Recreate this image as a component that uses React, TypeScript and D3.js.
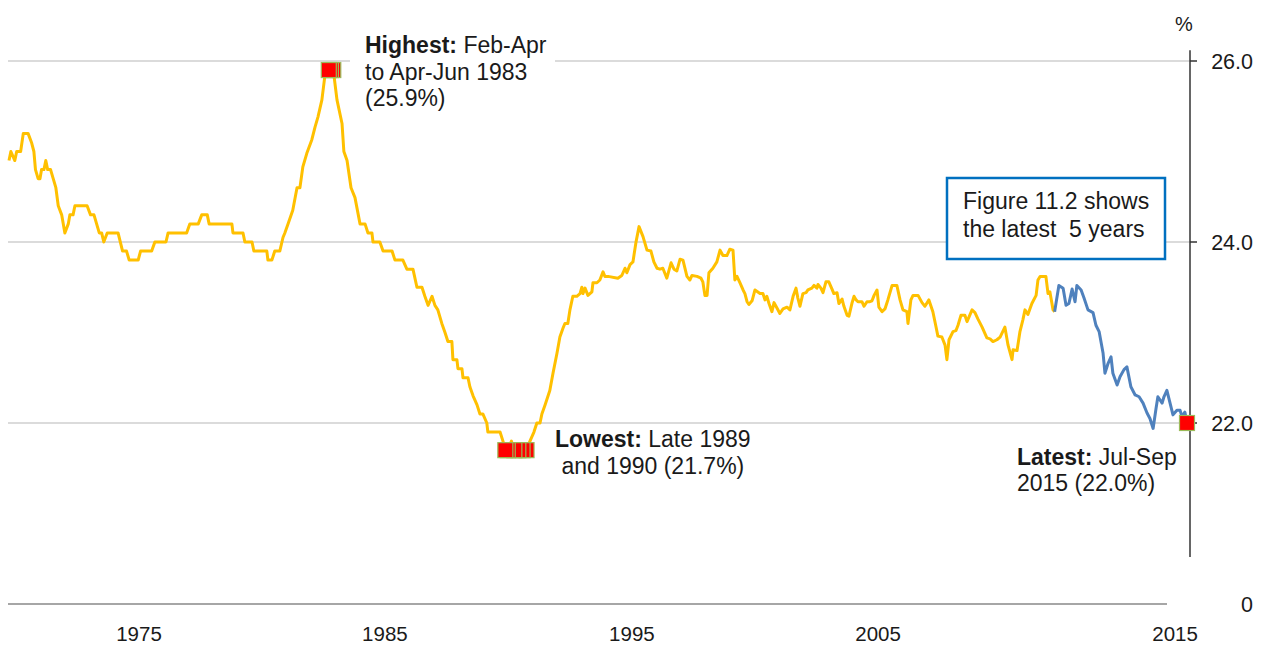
import React from 'react';
import * as d3 from 'd3';

// rolling-quarter rate, [year, %]
const seventies: [number, number][] = [
  [1971.13, 24.9], [1971.2, 25.0], [1971.35, 24.9], [1971.42, 25.0], [1971.57, 25.0], [1971.67, 25.2],
  [1971.85, 25.2], [1971.98, 25.1], [1972.07, 25.0], [1972.13, 24.8], [1972.23, 24.7], [1972.3, 24.7],
  [1972.36, 24.8], [1972.45, 24.8], [1972.52, 24.9], [1972.59, 24.8], [1972.7, 24.8], [1972.8, 24.7],
  [1972.9, 24.6], [1972.99, 24.4], [1973.12, 24.3], [1973.24, 24.1], [1973.37, 24.2], [1973.43, 24.3],
  [1973.55, 24.3], [1973.62, 24.4], [1974.08, 24.4], [1974.21, 24.3], [1974.34, 24.3], [1974.44, 24.2],
  [1974.54, 24.1], [1974.63, 24.1], [1974.71, 24.0], [1974.84, 24.1], [1975.25, 24.1], [1975.42, 23.9],
  [1975.57, 23.9], [1975.67, 23.8], [1976.01, 23.8], [1976.1, 23.9], [1976.52, 23.9], [1976.64, 24.0],
  [1977.06, 24.0], [1977.14, 24.1], [1977.84, 24.1], [1977.96, 24.2], [1978.28, 24.2], [1978.41, 24.3],
  [1978.62, 24.3], [1978.69, 24.2], [1979.55, 24.2], [1979.59, 24.1], [1979.97, 24.1],
];

const eighties: [number, number][] = [
  [1980.04, 24.0], [1980.31, 24.0], [1980.38, 23.9], [1980.87, 23.9], [1980.91, 23.8], [1981.06, 23.8],
  [1981.17, 23.9], [1981.36, 23.9], [1981.48, 24.05], [1981.55, 24.1], [1981.67, 24.2], [1981.85, 24.35],
  [1982.01, 24.6], [1982.12, 24.6], [1982.23, 24.83], [1982.38, 24.98], [1982.57, 25.13], [1982.69, 25.27],
  [1982.8, 25.38], [1982.95, 25.57], [1983.06, 25.83], [1983.21, 25.9], [1983.29, 25.9], [1983.38, 25.9],
  [1983.52, 25.57], [1983.71, 25.31], [1983.78, 25.0], [1983.9, 24.9], [1984.05, 24.6], [1984.2, 24.49],
  [1984.39, 24.2], [1984.58, 24.2], [1984.69, 24.1], [1984.84, 24.1], [1984.88, 24.0], [1985.14, 24.0],
  [1985.26, 23.9], [1985.6, 23.9], [1985.71, 23.8], [1986.01, 23.8], [1986.16, 23.7], [1986.39, 23.7],
  [1986.54, 23.5], [1986.73, 23.5], [1986.84, 23.4], [1986.96, 23.3], [1987.11, 23.4], [1987.22, 23.3],
  [1987.33, 23.25], [1987.48, 23.1], [1987.6, 23.0], [1987.71, 22.9], [1987.86, 22.9], [1987.9, 22.7],
  [1988.05, 22.7], [1988.09, 22.6], [1988.24, 22.6], [1988.28, 22.5], [1988.47, 22.5], [1988.54, 22.4],
  [1988.66, 22.3], [1988.81, 22.2], [1988.92, 22.1], [1989.03, 22.1], [1989.18, 22.0], [1989.22, 21.9],
  [1989.68, 21.9], [1989.79, 21.8], [1989.88, 21.7], [1989.97, 21.7],
];

const nineties: [number, number][] = [
  [1990.11, 21.8], [1990.22, 21.7], [1990.37, 21.7], [1990.53, 21.7], [1990.68, 21.7], [1990.81, 21.8],
  [1990.96, 21.9], [1991.07, 22.0], [1991.19, 22.0], [1991.26, 22.1], [1991.38, 22.2], [1991.56, 22.36],
  [1991.68, 22.55], [1991.83, 22.77], [1991.94, 22.95], [1992.06, 23.05], [1992.13, 23.1], [1992.24, 23.1],
  [1992.32, 23.25], [1992.43, 23.4], [1992.58, 23.4], [1992.7, 23.43], [1992.77, 23.5], [1992.81, 23.43],
  [1992.89, 23.49], [1993.0, 23.41], [1993.15, 23.45], [1993.19, 23.55], [1993.34, 23.55], [1993.45, 23.58],
  [1993.57, 23.67], [1993.64, 23.62], [1993.76, 23.62], [1994.13, 23.6], [1994.28, 23.63], [1994.4, 23.71],
  [1994.47, 23.66], [1994.59, 23.75], [1994.7, 23.78], [1994.81, 23.99], [1994.93, 24.17], [1995.08, 24.06],
  [1995.23, 23.91], [1995.38, 23.9], [1995.49, 23.78], [1995.61, 23.71], [1995.72, 23.7], [1995.83, 23.71],
  [1995.98, 23.6], [1996.14, 23.77], [1996.25, 23.7], [1996.36, 23.68], [1996.48, 23.81], [1996.59, 23.8],
  [1996.74, 23.62], [1996.85, 23.58], [1996.93, 23.63], [1997.12, 23.62], [1997.27, 23.6], [1997.34, 23.56],
  [1997.42, 23.41], [1997.5, 23.41], [1997.57, 23.66], [1997.72, 23.71], [1997.87, 23.78], [1997.99, 23.91],
  [1998.1, 23.85], [1998.25, 23.85], [1998.36, 23.92], [1998.48, 23.91], [1998.55, 23.58], [1998.63, 23.62],
  [1998.74, 23.55], [1998.86, 23.47], [1998.93, 23.43], [1999.01, 23.34], [1999.08, 23.31], [1999.2, 23.35],
  [1999.31, 23.47], [1999.5, 23.43], [1999.61, 23.43], [1999.69, 23.36], [1999.76, 23.4], [1999.84, 23.32],
  [1999.95, 23.23],
];

const noughties: [number, number][] = [
  [2000.03, 23.33], [2000.14, 23.27], [2000.25, 23.21], [2000.37, 23.26], [2000.52, 23.28], [2000.63, 23.25],
  [2000.75, 23.4], [2000.86, 23.49], [2000.93, 23.38], [2001.01, 23.29], [2001.12, 23.43], [2001.24, 23.44],
  [2001.31, 23.47], [2001.46, 23.49], [2001.54, 23.52], [2001.65, 23.49], [2001.69, 23.53], [2001.8, 23.49],
  [2001.88, 23.44], [2001.99, 23.56], [2002.1, 23.56], [2002.22, 23.48], [2002.29, 23.43], [2002.41, 23.44],
  [2002.48, 23.32], [2002.6, 23.37], [2002.67, 23.29], [2002.79, 23.19], [2002.86, 23.18], [2002.97, 23.32],
  [2003.05, 23.4], [2003.13, 23.36], [2003.2, 23.34], [2003.35, 23.34], [2003.43, 23.29], [2003.54, 23.34],
  [2003.65, 23.34], [2003.73, 23.35], [2003.81, 23.41], [2003.92, 23.47], [2003.99, 23.28], [2004.11, 23.23],
  [2004.22, 23.26], [2004.33, 23.36], [2004.49, 23.52], [2004.6, 23.52], [2004.67, 23.52], [2004.79, 23.36],
  [2004.9, 23.25], [2005.05, 23.23], [2005.09, 23.1], [2005.2, 23.36], [2005.28, 23.41], [2005.47, 23.41],
  [2005.62, 23.33], [2005.73, 23.29], [2005.88, 23.36], [2006.03, 23.23], [2006.15, 23.06], [2006.22, 22.96],
  [2006.37, 22.95], [2006.49, 22.86], [2006.56, 22.7], [2006.64, 22.92], [2006.79, 23.01], [2006.9, 23.02],
  [2006.98, 23.08], [2007.09, 23.19], [2007.24, 23.19], [2007.32, 23.12], [2007.51, 23.25], [2007.62, 23.22],
  [2007.73, 23.15], [2007.89, 23.06], [2008.07, 22.94], [2008.19, 22.93], [2008.3, 22.9], [2008.45, 22.92],
  [2008.57, 22.95], [2008.75, 23.06], [2008.87, 22.86], [2009.02, 22.7], [2009.06, 22.81], [2009.21, 22.8],
  [2009.32, 23.01], [2009.43, 23.14], [2009.51, 23.25], [2009.62, 23.2], [2009.77, 23.32], [2009.93, 23.41],
  [2010.0, 23.58], [2010.08, 23.62], [2010.3, 23.62], [2010.38, 23.43], [2010.45, 23.45], [2010.57, 23.25],
  [2010.63, 23.23],
];

// the latest 5 years (drawn in blue)
const latestFive: [number, number][] = [
  [2010.79, 23.52], [2010.95, 23.49], [2011.06, 23.3], [2011.17, 23.32], [2011.29, 23.48], [2011.4, 23.34],
  [2011.47, 23.52], [2011.63, 23.47], [2011.74, 23.38], [2011.89, 23.25], [2012.08, 23.22], [2012.19, 23.08],
  [2012.31, 23.01], [2012.46, 22.77], [2012.53, 22.55], [2012.65, 22.66], [2012.76, 22.73], [2012.83, 22.55],
  [2012.99, 22.42], [2013.1, 22.51], [2013.25, 22.59], [2013.36, 22.62], [2013.51, 22.4], [2013.67, 22.31],
  [2013.82, 22.29], [2013.97, 22.22], [2014.12, 22.11], [2014.23, 22.05], [2014.35, 21.94], [2014.46, 22.16],
  [2014.53, 22.29], [2014.69, 22.22], [2014.76, 22.29], [2014.87, 22.36], [2014.99, 22.22], [2015.1, 22.09],
  [2015.25, 22.14], [2015.37, 22.14], [2015.44, 22.07], [2015.55, 22.12], [2015.63, 22.0],
];

const xTickLabels = ['1975', '1985', '1995', '2005', '2015'];
const xTickAt = [1976.04, 1985.33, 1994.66, 2003.96, 2015.18];
const yGrid = [22, 24, 26];
const yTickLabels = ['0', '22.0', '24.0', '26.0'];
const yTickValues = [20, 22, 24, 26];

const FONT = '"Liberation Sans", Arial, sans-serif';
const TXT = '#1a1a1a';

export default function App() {
  const history = [...seventies, ...eighties, ...nineties, ...noughties];
  const all = [...history, ...latestFive];

  const x = d3.scaleLinear()
    .domain(d3.extent(all, d => d[0]) as [number, number])
    .range([9, 1187]);
  const y = d3.scaleLinear().domain([20, 26]).range([604, 61]);

  const line = d3.line<[number, number]>().x(d => x(d[0])).y(d => y(d[1]));

  const hi = d3.max(all, d => d[1])!;
  const lo = d3.min(all, d => d[1])!;
  // markers: highest, lowest and the latest point, later ones drawn underneath
  const marks = [
    ...all.filter(d => d[1] === hi),
    ...all.filter(d => d[1] === lo),
    all[all.length - 1],
  ].reverse();
  const ms = 15;

  const axisX = 1190;

  return (
    <svg width={1265} height={646} style={{ position: 'absolute', left: 0, top: 0, background: '#fff' }}
      fontFamily={FONT}>
      {/* gridlines */}
      {yGrid.map(v => (
        <line key={v} x1={8} x2={axisX} y1={y(v)} y2={y(v)} stroke="#cfcfcf" strokeWidth={1.6} />
      ))}
      {/* broken-axis baseline */}
      <line x1={8} x2={1167} y1={y(20)} y2={y(20)} stroke="#a6a6a6" strokeWidth={2} />

      {/* y axis */}
      <line x1={axisX} x2={axisX} y1={y(26.12)} y2={y(20.52)} stroke="#333" strokeWidth={1.5} />
      {yGrid.map(v => (
        <line key={v} x1={axisX} x2={axisX + 7} y1={y(v)} y2={y(v)} stroke="#333" strokeWidth={1.5} />
      ))}
      {yTickValues.map((v, i) => (
        <text key={v} x={1253} y={y(v)} dy="0.36em" textAnchor="end" fontSize={21.5} fill={TXT}>
          {yTickLabels[i]}
        </text>
      ))}
      <text x={1184} y={31} textAnchor="middle" fontSize={20} fill={TXT}>%</text>

      {/* x labels */}
      {xTickLabels.map((t, i) => (
        <text key={t} x={x(xTickAt[i])} y={641} textAnchor="middle" fontSize={20.5} fill={TXT}>{t}</text>
      ))}

      {/* series */}
      <path d={line(history) ?? ''} fill="none" stroke="#FFC000" strokeWidth={3} strokeLinejoin="round" />
      <path d={line([history[history.length - 1], ...latestFive]) ?? ''} fill="none" stroke="#4F81BD"
        strokeWidth={3} strokeLinejoin="round" />

      {/* markers */}
      {marks.map((d, i) => (
        <rect key={i} x={x(d[0]) - ms / 2} y={y(d[1]) - ms / 2} width={ms} height={ms}
          fill="#FF0000" stroke="#9BBB59" strokeWidth={1.2} />
      ))}

      {/* annotations */}
      <rect x={350} y={30} width={205} height={84} fill="#fff" />
      <text x={365} fontSize={23} fill={TXT} style={{ whiteSpace: 'pre' }}>
        <tspan x={365} y={53}><tspan fontWeight="bold">Highest:</tspan> Feb-Apr</tspan>
        <tspan x={365} y={80}>to Apr-Jun 1983</tspan>
        <tspan x={365} y={106}>(25.9%)</tspan>
      </text>

      <text fontSize={23} fill={TXT} style={{ whiteSpace: 'pre' }}>
        <tspan x={555} y={447}><tspan fontWeight="bold">Lowest:</tspan> Late 1989</tspan>
        <tspan x={555} y={474}> and 1990 (21.7%)</tspan>
      </text>

      <text fontSize={23} fill={TXT} style={{ whiteSpace: 'pre' }}>
        <tspan x={1017} y={465}><tspan fontWeight="bold">Latest:</tspan> Jul-Sep</tspan>
        <tspan x={1017} y={491}>2015 (22.0%)</tspan>
      </text>

      <rect x={947} y={178} width={218} height={81} fill="#fff" stroke="#0070C0" strokeWidth={2.5} />
      <text fontSize={23} fill={TXT} style={{ whiteSpace: 'pre' }}>
        <tspan x={963} y={209}>Figure 11.2 shows</tspan>
        <tspan x={963} y={237}>the latest  5 years</tspan>
      </text>
    </svg>
  );
}
